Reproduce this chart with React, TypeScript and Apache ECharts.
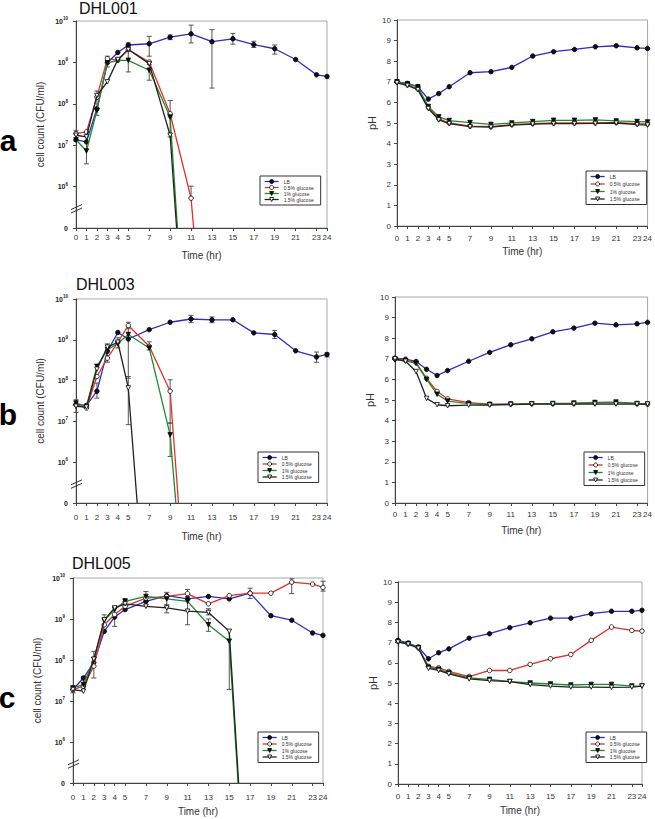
import { useEffect, useRef } from 'react';
import * as echarts from 'echarts';

// ---------- data ----------
const TIME = [0, 1, 2, 3, 4, 5, 7, 9, 11, 13, 15, 17, 19, 21, 23, 24];
const SERIES_NAMES = ['LB', '0.5% glucose', '1% glucose', '1.5% glucose'];
const PANEL_TITLES = ['DHL001', 'DHL003', 'DHL005'];
const PANEL_LETTERS = ['a', 'b', 'c'];
const CFU_TICKS = [5, 6, 7, 8, 9, 10]; // log10 CFU/ml; 5 is drawn as "0"
const ZERO_LOG = 5;
const BREAK_LOG = 5.47;

// DHL001 cell counts (log10 CFU/ml)
const A_CFU_LB = [7.13, 7.08, 7.88, 8.99, 9.24, 9.42, 9.45, 9.61, 9.69, 9.5, 9.57, 9.43, 9.33, 9.07, 8.7, 8.66];
const A_CFU_G05 = [7.28, 7.32, 8.16, 9.09, 9.05, 9.31, 9.01, 7.76, 5.72];
const A_CFU_G1 = [7.13, 6.86, 7.84, 8.99, 9.05, 9.05, 8.81, 7.68];
const A_CFU_G15 = [7.24, 7.2, 8.2, 8.53, 9.07, 9.31, 8.97, 7.24];
const A_CFU_ZERO_T = [null, 11.25, 9.7, 9.62];
const A_CFU_ERR = [
  [0, 7.1, 7.35], [1, 6.55, 7.3], [2, 7.72, 8.31], [3, 8.89, 9.15], [5, 9.37, 9.47], [5, 8.77, 9.29],
  [7, 9.15, 9.63], [7, 8.57, 8.95], [9, 9.55, 9.66], [9, 7.68, 8.08], [9, 7.2, 7.75], [11, 9.47, 9.9],
  [11, 5.72, 6.01], [13, 8.38, 9.79], [15, 9.44, 9.7], [17, 9.36, 9.51], [19, 9.2, 9.42],
];

// DHL003 cell counts
const B_CFU_LB = [7.41, 7.39, 7.74, 8.72, 9.18, 9.02, 9.25, 9.43, 9.51, 9.49, 9.49, 9.17, 9.13, 8.73, 8.58, 8.64];
const B_CFU_G05 = [7.41, 7.33, 8.1, 8.55, 8.94, 9.35, 8.84, 7.74];
const B_CFU_G1 = [7.45, 7.37, 8.35, 8.76, 8.91, 9.13, 8.8, 6.67];
const B_CFU_G15 = [7.37, 7.35, 8.28, 8.82, 8.94, 7.82];
const B_CFU_ZERO_T = [null, 9.8, 9.55, 5.85];
const B_CFU_ERR = [
  [0, 7.22, 7.53], [2, 7.57, 7.94], [3, 8.45, 8.9], [4, 8.8, 9.05], [5, 9.27, 9.43], [5, 8.06, 9.33],
  [5, 6.92, 8.1], [7, 8.75, 8.95], [9, 6.96, 8.02], [9, 6.14, 6.96], [11, 9.42, 9.6], [13, 9.42, 9.56],
  [19, 9.03, 9.23], [23, 8.45, 8.7], [24, 8.58, 8.68],
];

// DHL005 cell counts
const C_CFU_LB = [7.28, 7.56, 7.94, 8.7, 9.05, 9.23, 9.43, 9.57, 9.49, 9.55, 9.49, 9.63, 9.08, 8.97, 8.66, 8.6];
const C_CFU_G05 = [7.28, 7.36, 7.85, 8.86, 9.11, 9.31, 9.51, 9.55, 9.62, 9.37, 9.57, 9.63, 9.63, 9.9, 9.85, 9.77];
const C_CFU_G1 = [7.32, 7.4, 8.01, 8.96, 9.23, 9.43, 9.55, 9.49, 9.43, 8.86, 8.46];
const C_CFU_G15 = [7.28, 7.24, 8.02, 8.98, 9.27, 9.37, 9.31, 9.27, 9.19, 9.16, 8.7];
const C_CFU_ZERO_T = [null, null, 15.85, 15.9];
const C_CFU_ERR = [
  [0, 7.2, 7.35], [1, 7.4, 7.6], [2, 7.56, 8.21], [3, 8.85, 9.1], [4, 8.82, 9.31], [5, 9.3, 9.5],
  [7, 9.43, 9.67], [9, 9.3, 9.65], [9, 9.15, 9.35], [11, 9.5, 9.72], [11, 8.86, 9.55], [13, 8.7, 9.0],
  [13, 9.1, 9.25], [15, 7.28, 8.74], [17, 9.5, 9.75], [21, 9.62, 9.98], [24, 9.68, 9.92],
];

// pH
const A_PH_LB = [7.0, 6.92, 6.76, 6.16, 6.43, 6.76, 7.44, 7.49, 7.7, 8.25, 8.46, 8.57, 8.7, 8.75, 8.65, 8.62];
const A_PH_G05 = [7.0, 6.85, 6.65, 5.75, 5.2, 5.0, 4.85, 4.82, 4.92, 4.97, 5.0, 5.0, 5.0, 5.02, 4.97, 4.95];
const A_PH_G1 = [7.0, 6.9, 6.75, 5.8, 5.3, 5.12, 5.02, 4.93, 5.0, 5.07, 5.13, 5.13, 5.15, 5.1, 5.07, 5.05];
const A_PH_G15 = [6.95, 6.82, 6.62, 5.7, 5.15, 4.97, 4.82, 4.8, 4.9, 4.95, 4.97, 4.97, 4.98, 5.0, 4.92, 4.9];

const B_PH_LB = [7.03, 6.98, 6.87, 6.49, 6.19, 6.43, 6.88, 7.31, 7.68, 7.97, 8.31, 8.49, 8.73, 8.65, 8.7, 8.77];
const B_PH_G05 = [7.0, 6.95, 6.82, 6.05, 5.42, 5.05, 4.87, 4.8, 4.8, 4.82, 4.82, 4.83, 4.85, 4.87, 4.82, 4.8];
const B_PH_G1 = [6.95, 6.9, 6.78, 6.0, 5.28, 4.95, 4.82, 4.78, 4.8, 4.82, 4.83, 4.85, 4.88, 4.9, 4.83, 4.8];
const B_PH_G15 = [7.0, 6.88, 6.38, 5.08, 4.77, 4.72, 4.75, 4.75, 4.78, 4.8, 4.8, 4.8, 4.8, 4.8, 4.8, 4.8];

const C_PH_LB = [7.11, 6.98, 6.78, 6.2, 6.5, 6.69, 7.22, 7.44, 7.74, 7.98, 8.21, 8.21, 8.43, 8.55, 8.55, 8.6];
const C_PH_G05 = [7.06, 6.94, 6.74, 5.82, 5.75, 5.57, 5.32, 5.62, 5.62, 5.92, 6.2, 6.41, 7.11, 7.77, 7.6, 7.57];
const C_PH_G1 = [7.05, 6.95, 6.75, 5.78, 5.68, 5.5, 5.25, 5.18, 5.07, 5.0, 4.95, 4.9, 4.93, 4.93, 4.85, 4.85];
const C_PH_G15 = [7.03, 6.92, 6.72, 5.72, 5.62, 5.45, 5.2, 5.12, 5.07, 4.92, 4.85, 4.8, 4.8, 4.78, 4.8, 4.85];

// ---------- styles / layout ----------
const STY = [
  { color: '#2b2bd0', symbol: 'circle', fill: '#111', rot: 0 },
  { color: '#e3302a', symbol: 'circle', fill: '#fff', rot: 0 },
  { color: '#1f8a2c', symbol: 'triangle', fill: '#111', rot: 180 },
  { color: '#222222', symbol: 'triangle', fill: '#fff', rot: 180 },
];

const FONT = 'Liberation Sans, Arial, sans-serif';

const LAYOUT = [
  { grid: { left: 76, top: 21, width: 251, height: 207 }, xMargin: 5, xGap: 22, legend: { left: 260, top: 176 }, gap: 1 },
  { grid: { left: 397, top: 20, width: 253, height: 206 }, xMargin: 8, xGap: 20, legend: { left: 586, top: 171 }, gap: 2.5 },
  { grid: { left: 76, top: 299, width: 251, height: 204 }, xMargin: 10, xGap: 28, legend: { left: 258, top: 452 }, gap: 1.5 },
  { grid: { left: 395, top: 297, width: 253, height: 206 }, xMargin: 7, xGap: 22, legend: { left: 584, top: 452 }, gap: 2.5 },
  { grid: { left: 73, top: 578, width: 250, height: 205 }, xMargin: 10, xGap: 23, legend: { left: 258, top: 732 }, gap: 1.5 },
  { grid: { left: 398, top: 582, width: 244, height: 202 }, xMargin: 8, xGap: 21, legend: { left: 586, top: 732 }, gap: 1.5 },
];

const PANELS = [
  { kind: 'cfu', data: [A_CFU_LB, A_CFU_G05, A_CFU_G1, A_CFU_G15], zero: A_CFU_ZERO_T, err: A_CFU_ERR },
  { kind: 'ph', data: [A_PH_LB, A_PH_G05, A_PH_G1, A_PH_G15] },
  { kind: 'cfu', data: [B_CFU_LB, B_CFU_G05, B_CFU_G1, B_CFU_G15], zero: B_CFU_ZERO_T, err: B_CFU_ERR },
  { kind: 'ph', data: [B_PH_LB, B_PH_G05, B_PH_G1, B_PH_G15] },
  { kind: 'cfu', data: [C_CFU_LB, C_CFU_G05, C_CFU_G1, C_CFU_G15], zero: C_CFU_ZERO_T, err: C_CFU_ERR },
  { kind: 'ph', data: [C_PH_LB, C_PH_G05, C_PH_G1, C_PH_G15] },
];

const TITLE_POS = [
  { x: 79, y: 8.5 },
  { x: 76, y: 284.5 },
  { x: 72, y: 563 },
];
const LETTER_POS = [
  { x: 8, y: 140 },
  { x: 8, y: 414 },
  { x: 7, y: 697 },
];

function buildOption() {
  const grid: any[] = [];
  const xAxis: any[] = [];
  const yAxis: any[] = [];
  const series: any[] = [];
  const legend: any[] = [];

  PANELS.forEach((p, i) => {
    const L = LAYOUT[i];
    grid.push({ ...L.grid, show: true, borderColor: '#a8a8a8', borderWidth: 1, backgroundColor: 'transparent' });
    xAxis.push({
      gridIndex: i, type: 'value', min: 0, max: 24,
      axisLine: { show: true, onZero: false, lineStyle: { color: '#444', width: 1 } },
      axisTick: { show: true, length: 3, customValues: TIME, lineStyle: { color: '#444' } },
      axisLabel: { customValues: TIME, fontSize: 8, color: '#333', margin: L.xMargin, fontFamily: FONT },
      splitLine: { show: false },
      name: 'Time (hr)', nameLocation: 'middle', nameGap: L.xGap,
      nameTextStyle: { fontSize: 10, color: '#333', fontFamily: FONT, fontWeight: 'normal' },
    });
    if (p.kind === 'cfu') {
      yAxis.push({
        gridIndex: i, type: 'value', min: CFU_TICKS[0], max: CFU_TICKS[CFU_TICKS.length - 1], interval: 1,
        axisLine: { show: true, onZero: false, lineStyle: { color: '#444', width: 1 } },
        axisTick: { show: true, length: 3, lineStyle: { color: '#444' } },
        axisLabel: {
          fontSize: 7, fontWeight: 'bold', color: '#222', margin: 8, fontFamily: FONT,
          formatter: (v: number) => (v === ZERO_LOG ? '0' : '10{s|' + v + '}'),
          rich: { s: { fontSize: 4.5, fontWeight: 'bold', color: '#222', verticalAlign: 'top', padding: [0, 0, 5, 0], fontFamily: FONT } },
        },
        splitLine: { show: false },
        name: 'cell count (CFU/ml)', nameLocation: 'middle', nameGap: 31,
        nameTextStyle: { fontSize: 10, color: '#333', fontFamily: FONT },
      });
    } else {
      yAxis.push({
        gridIndex: i, type: 'value', min: 0, max: 10, interval: 1,
        axisLine: { show: true, onZero: false, lineStyle: { color: '#444', width: 1 } },
        axisTick: { show: true, length: 3, lineStyle: { color: '#444' } },
        axisLabel: { fontSize: 8, color: '#333', margin: 6, fontFamily: FONT },
        splitLine: { show: false },
        name: 'pH', nameLocation: 'middle', nameGap: 20,
        nameTextStyle: { fontSize: 11, color: '#333', fontFamily: FONT },
      });
    }

    if (p.kind === 'cfu') {
      series.push({
        type: 'custom', name: 'err' + i, xAxisIndex: i, yAxisIndex: i, silent: true, z: 2,
        data: p.err,
        renderItem: (_params: any, api: any) => {
          const t = api.value(0);
          const a = api.coord([t, api.value(2)]);
          const b = api.coord([t, api.value(1)]);
          const w = 2.5;
          const st = { stroke: '#555', lineWidth: 1 };
          return {
            type: 'group',
            children: [
              { type: 'line', shape: { x1: a[0], y1: a[1], x2: b[0], y2: b[1] }, style: st },
              { type: 'line', shape: { x1: a[0] - w, y1: a[1], x2: a[0] + w, y2: a[1] }, style: st },
              { type: 'line', shape: { x1: b[0] - w, y1: b[1], x2: b[0] + w, y2: b[1] }, style: st },
            ],
          };
        },
      });
      series.push({
        type: 'custom', name: 'break' + i, xAxisIndex: i, yAxisIndex: i, silent: true, z: 6,
        data: [[0, BREAK_LOG]],
        renderItem: (_params: any, api: any) => {
          const c = api.coord([api.value(0), api.value(1)]);
          const st = { stroke: '#333', lineWidth: 1 };
          return {
            type: 'group',
            children: [
              { type: 'line', shape: { x1: c[0] - 5, y1: c[1] + 1, x2: c[0] + 6, y2: c[1] - 4 }, style: st },
              { type: 'line', shape: { x1: c[0] - 5, y1: c[1] + 4.5, x2: c[0] + 6, y2: c[1] - 0.5 }, style: st },
            ],
          };
        },
      });
    }

    p.data.forEach((vals: number[], k: number) => {
      const s = STY[k];
      const data: any[] = vals.map((v, j) => [TIME[j], v]);
      if (p.kind === 'cfu' && p.zero && p.zero[k] != null) {
        data.push({ value: [p.zero[k], ZERO_LOG], symbol: 'none' });
      }
      series.push({
        type: 'line', name: SERIES_NAMES[k], xAxisIndex: i, yAxisIndex: i, data,
        symbol: s.symbol, symbolSize: 4.5, symbolRotate: s.rot, showSymbol: true,
        lineStyle: { color: s.color, width: 1.3 },
        itemStyle: { color: s.fill, borderColor: '#000', borderWidth: 0.8 },
        z: 3 + k * 0.1, silent: true, clip: true,
      });
    });

    legend.push({
      orient: 'vertical', left: L.legend.left, top: L.legend.top,
      data: SERIES_NAMES.map((n, k) => ({
        name: n,
        itemStyle: { color: STY[k].fill, borderColor: '#000', borderWidth: 0.8 },
        lineStyle: { color: STY[k].color, width: 1.3 },
        symbolRotate: STY[k].rot,
      })),
      itemWidth: 14, itemHeight: 5, itemGap: L.gap,
      padding: [3, 7, 3, 4], borderColor: '#333', borderWidth: 1, backgroundColor: '#fff',
      selectedMode: false,
      textStyle: { fontSize: 5, color: '#333', fontFamily: FONT },
    });
  });

  const graphic: any[] = [];
  PANEL_TITLES.forEach((t, i) => {
    graphic.push({
      type: 'text', x: TITLE_POS[i].x, y: TITLE_POS[i].y,
      style: { text: t, fontSize: 16, fontFamily: FONT, fill: '#111', align: 'left', verticalAlign: 'middle' },
    });
    graphic.push({
      type: 'text', x: LETTER_POS[i].x, y: LETTER_POS[i].y,
      style: { text: PANEL_LETTERS[i], fontSize: 30, fontWeight: 'bold', fontFamily: FONT, fill: '#000', align: 'center', verticalAlign: 'middle' },
    });
  });

  return {
    animation: false,
    backgroundColor: '#fff',
    textStyle: { fontFamily: FONT },
    grid, xAxis, yAxis, series, legend, graphic,
  };
}

export default function App() {
  const ref = useRef<HTMLDivElement>(null);
  useEffect(() => {
    const chart = echarts.init(ref.current!, null, { renderer: 'svg' });
    chart.setOption(buildOption() as any);
    return () => chart.dispose();
  }, []);
  return (
    <div
      ref={ref}
      style={{ position: 'absolute', left: 0, top: 0, width: 655, height: 819, background: '#fff' }}
    />
  );
}
